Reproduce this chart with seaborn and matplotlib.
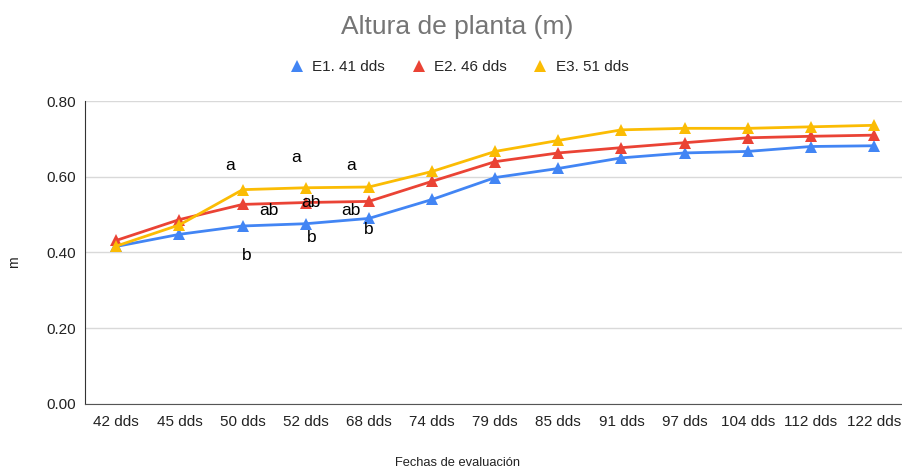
import pandas as pd
import numpy as np
import matplotlib.pyplot as plt
import seaborn as sb
from matplotlib.lines import Line2D

# datos
fechas = ["42 dds", "45 dds", "50 dds", "52 dds", "68 dds", "74 dds", "79 dds",
          "85 dds", "91 dds", "97 dds", "104 dds", "112 dds", "122 dds"]
e1 = [0.416, 0.448, 0.470, 0.476, 0.490, 0.540, 0.598, 0.622, 0.650, 0.663, 0.667, 0.680, 0.682]
e2 = [0.432, 0.487, 0.527, 0.532, 0.535, 0.588, 0.640, 0.663, 0.677, 0.690, 0.703, 0.707, 0.710]
e3 = [0.417, 0.473, 0.566, 0.571, 0.573, 0.614, 0.667, 0.696, 0.724, 0.728, 0.728, 0.732, 0.736]
series = ["E1. 41 dds", "E2. 46 dds", "E3. 51 dds"]
colores = ["#4285F4", "#EA4335", "#FBBC04"]

# letras de significancia (posición x en índice de fecha, y en m)
letras = ["a", "a", "a", "ab", "ab", "ab", "b", "b", "b"]
letras_x = [1.8, 2.84, 3.72, 2.41, 3.08, 3.72, 2.07, 3.09, 4.0]
letras_y = [0.630, 0.652, 0.630, 0.511, 0.532, 0.511, 0.392, 0.440, 0.461]

df = pd.DataFrame({
    "fecha": fechas * 3,
    "altura": e1 + e2 + e3,
    "serie": np.repeat(series, len(fechas)),
})

sb.set_style("white")
plt.rcParams["font.family"] = ["Liberation Sans", "DejaVu Sans"]

fig = plt.figure(figsize=(9.02, 4.68), dpi=100)
ax = fig.add_axes([0.094, 0.137, 0.91, 0.647])

sb.lineplot(data=df, x="fecha", y="altura", hue="serie", style="serie",
            palette=dict(zip(series, colores)), markers={s: "^" for s in series},
            dashes=False, sort=False, linewidth=2, markersize=9,
            markeredgewidth=0, ax=ax, legend=False)

for t, x, y in zip(letras, letras_x, letras_y):
    ax.text(x, y, t, ha="center", va="center", fontsize=12.5, color="black")

ax.set_ylim(0, 0.8)
ax.set_xlim(-0.5, 12.5)
ax.set_yticks([0, 0.2, 0.4, 0.6, 0.8])
ax.set_yticklabels(["0.00", "0.20", "0.40", "0.60", "0.80"])
ax.grid(axis="y", color="#d9d9d9", linewidth=1)
ax.tick_params(axis="x", labelsize=11, length=0, colors="#222222", pad=8)
ax.tick_params(axis="y", labelsize=11, length=0, colors="#222222", pad=6)
for s in ["top", "right"]:
    ax.spines[s].set_visible(False)
ax.spines["left"].set_color("#333333")
ax.spines["bottom"].set_color("#555555")
ax.set_xlabel("")
ax.set_ylabel("")
fig.text(0.507, 0.011, "Fechas de evaluación", ha="center", va="center",
         fontsize=9.3, color="#222222")
fig.text(0.016, 0.44, "m", ha="center", va="center", rotation=90,
         fontsize=10, color="#222222")

fig.text(0.507, 0.942, "Altura de planta (m)", ha="center", va="center",
         fontsize=19, color="#757575")

handles = [Line2D([], [], linestyle="none", marker="^", markersize=9,
                  markeredgewidth=0, color=c) for c in colores]
fig.legend(handles, series, loc="center", bbox_to_anchor=(0.508, 0.857), ncol=3,
           frameon=False, fontsize=11, handletextpad=0.4, columnspacing=1.6,
           handlelength=1.2)

plt.savefig("out.png", dpi=100)
